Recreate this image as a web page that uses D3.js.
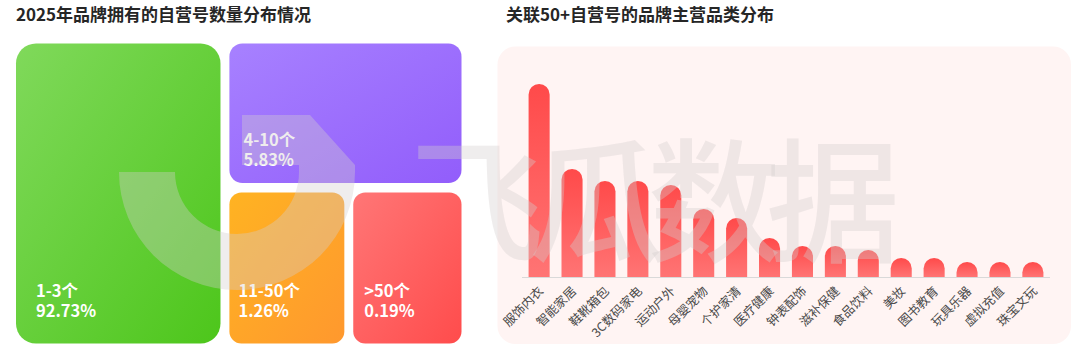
<!DOCTYPE html>
<html>
<head>
<meta charset="utf-8">
<script src="https://cdn.jsdelivr.net/npm/d3@7"></script>
<style>
  html, body { margin: 0; padding: 0; background: #fff; }
  svg { display: block; font-family: "Noto Sans CJK SC", "Noto Sans", sans-serif; }
</style>
</head>
<body>
<div id="chart"></div>
<script>
// data
var groupLabels = ["1-3个", "4-10个", "11-50个", ">50个"];
var groupShares = [92.73, 5.83, 1.26, 0.19];

var categories = ["服饰内衣", "智能家居", "鞋靴箱包", "3C数码家电", "运动户外", "母婴宠物", "个护家清", "医疗健康",
  "钟表配饰", "滋补保健", "食品饮料", "美妆", "图书教育", "玩具乐器", "虚拟充值", "珠宝文玩"];
var brandCounts = [193, 108, 96, 96, 92, 68, 59, 39, 31, 31, 27, 19, 19, 15, 15, 15];

var W = 1080, H = 357;
var svg = d3.select("#chart").append("svg").attr("width", W).attr("height", H);
var defs = svg.append("defs");

function grad(id, c1, c2, x2, y2) {
  var g = defs.append("linearGradient").attr("id", id)
    .attr("x1", 0).attr("y1", 0).attr("x2", x2).attr("y2", y2);
  g.append("stop").attr("offset", "0%").attr("stop-color", c1);
  g.append("stop").attr("offset", "100%").attr("stop-color", c2);
}
grad("g0", "#80d95b", "#4dc61b", 1, 1);
grad("g1", "#a781ff", "#925dfb", 1, 1);
grad("g2", "#ffb322", "#ff982e", 1, 1);
grad("g3", "#ff7676", "#ff4c4c", 1, 1);
grad("barGrad", "#ff4a4a", "#ff7474", 0, 1);

// titles
svg.append("text").attr("x", 16).attr("y", 21).attr("font-size", 17).attr("font-weight", 700)
  .attr("fill", "#262626").text("2025年品牌拥有的自营号数量分布情况");
svg.append("text").attr("x", 506).attr("y", 21).attr("font-size", 17).attr("font-weight", 700)
  .attr("fill", "#262626").text("关联50+自营号的品牌主营品类分布");

// left: blocks laid out on a grid (not proportional, as in the original)
var gx = d3.scaleLinear().domain([0, 1]).range([16, 461.5]);
var gy = d3.scaleLinear().domain([0, 1]).range([43.5, 343.5]);
var cells = [
  {x0: 0, x1: 0.459, y0: 0, y1: 1, r: 20, px: 20, py: 27},
  {x0: 0.479, x1: 1, y0: 0, y1: 0.465, r: 13, px: 14, py: 17},
  {x0: 0.479, x1: 0.737, y0: 0.497, y1: 1, r: 12, px: 9, py: 27},
  {x0: 0.757, x1: 1, y0: 0.497, y1: 1, r: 12, px: 11, py: 27}
];

var blocks = svg.append("g").selectAll("g").data(groupLabels).join("g");
blocks.append("rect")
  .attr("x", function(d, i) { return gx(cells[i].x0); })
  .attr("y", function(d, i) { return gy(cells[i].y0); })
  .attr("width", function(d, i) { return gx(cells[i].x1) - gx(cells[i].x0); })
  .attr("height", function(d, i) { return gy(cells[i].y1) - gy(cells[i].y0); })
  .attr("rx", function(d, i) { return cells[i].r; })
  .attr("fill", function(d, i) { return "url(#g" + i + ")"; });

var lbl = blocks.append("text")
  .attr("font-size", 16.5).attr("font-weight", 700).attr("fill", "#fff");
lbl.append("tspan")
  .attr("x", function(d, i) { return gx(cells[i].x0) + cells[i].px; })
  .attr("y", function(d, i) { return gy(cells[i].y1) - cells[i].py - 20; })
  .text(function(d) { return d; });
lbl.append("tspan")
  .attr("x", function(d, i) { return gx(cells[i].x0) + cells[i].px; })
  .attr("dy", 20)
  .text(function(d, i) { return groupShares[i].toFixed(2) + "%"; });

// right: panel + bars
svg.append("rect").attr("x", 497.5).attr("y", 46.5).attr("width", 573.5).attr("height", 297.5)
  .attr("rx", 18).attr("fill", "#fff4f3");

var x = d3.scaleBand().domain(categories).range([522, 1050]).paddingInner(0.36).paddingOuter(0.2);
var y = d3.scaleLinear().domain([0, 200]).range([277, 77]);

function barPath(d, i) {
  var x0 = x(categories[i]), w = x.bandwidth(), r = w / 2;
  var top = y(d), base = y(0);
  return "M" + x0 + "," + base + "L" + x0 + "," + (top + r) +
    "A" + r + "," + r + " 0 0 1 " + (x0 + w) + "," + (top + r) +
    "L" + (x0 + w) + "," + base + "Z";
}

svg.append("g").selectAll("path").data(brandCounts).join("path")
  .attr("d", barPath)
  .attr("fill", "url(#barGrad)");

svg.append("line").attr("x1", x.range()[0]).attr("x2", x.range()[1])
  .attr("y1", y(0) + 0.5).attr("y2", y(0) + 0.5).attr("stroke", "#d9d9d9");

svg.append("g").selectAll("text").data(categories).join("text")
  .attr("transform", function(d) {
    return "translate(" + (x(d) + x.bandwidth() / 2 + 5) + "," + (y(0) + 15) + ") rotate(-45)";
  })
  .attr("text-anchor", "end")
  .attr("font-size", 12.5).attr("fill", "#4a4a4a")
  .text(function(d) { return d; });

// watermark
var wm = svg.append("g").attr("fill", "rgb(211,205,205)").attr("fill-opacity", 0.37)
  .attr("pointer-events", "none");
var arc = d3.arc().innerRadius(62).outerRadius(118).startAngle(Math.PI / 2).endAngle(Math.PI * 1.5);
wm.append("path").attr("transform", "translate(237,172)").attr("d", arc());
wm.append("path").attr("d", "M299,172L355,172L355,165L310,115L242,115L242,165L299,165Z");
wm.append("text").attr("x", 410).attr("y", 252).attr("font-size", 134).attr("font-weight", 500)
  .attr("textLength", 490).attr("lengthAdjust", "spacing").text("飞瓜数据");
</script>
</body>
</html>
